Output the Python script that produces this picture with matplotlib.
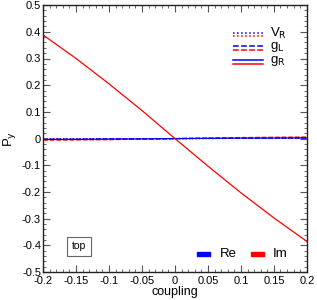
import numpy as np
import matplotlib.pyplot as plt
from matplotlib.ticker import MultipleLocator

plt.rcParams['font.family'] = ['Liberation Sans', 'DejaVu Sans']

# coupling values and polarisation curves (Re = blue, Im = red)
coupling = [-0.2, -0.15, -0.1, -0.05, 0.0, 0.05, 0.1, 0.15, 0.2]
re_vr = [-0.001, -0.001, -0.001, 0.0, 0.0, 0.0, 0.001, 0.001, 0.001]
im_vr = [-0.002, -0.002, -0.001, -0.001, 0.0, 0.001, 0.001, 0.002, 0.002]
re_gl = [-0.002, -0.002, -0.001, -0.001, 0.0, 0.001, 0.001, 0.002, 0.002]
im_gl = [-0.006, -0.005, -0.004, -0.002, 0.0, 0.002, 0.004, 0.005, 0.006]
re_gr = [-0.003, -0.003, -0.002, -0.001, 0.0, 0.001, 0.002, 0.002, 0.003]
im_gr = [0.388, 0.300, 0.205, 0.105, 0.0, -0.103, -0.203, -0.297, -0.385]

xtick_vals = [-0.2, -0.15, -0.1, -0.05, 0, 0.05, 0.1, 0.15, 0.2]
xtick_labels = ["-0.2", "-0.15", "-0.1", "-0.05", "0", "0.05", "0.1", "0.15", "0.2"]
ytick_vals = [-0.5, -0.4, -0.3, -0.2, -0.1, 0, 0.1, 0.2, 0.3, 0.4, 0.5]
ytick_labels = ["-0.5", "-0.4", "-0.3", "-0.2", "-0.1", "0", "0.1", "0.2", "0.3", "0.4", "0.5"]

legend_labels = [r"V$_\mathrm{R}$", r"g$_\mathrm{L}$", r"g$_\mathrm{R}$"]
legend_styles = [":", "--", "-"]

fig = plt.figure(figsize=(3.17, 3.0), dpi=100)
ax = fig.add_axes([0.136, 0.093, 0.832, 0.890])

blue = "#0000ff"
red = "#ff0000"
lw = 0.9

ax.plot(coupling, re_vr, color=blue, ls=":", lw=lw)
ax.plot(coupling, im_vr, color=red, ls=":", lw=lw)
ax.plot(coupling, re_gl, color=blue, ls="--", lw=lw)
ax.plot(coupling, im_gl, color=red, ls="--", lw=lw)
ax.plot(coupling, re_gr, color=blue, ls="-", lw=lw)
ax.plot(coupling, im_gr, color=red, ls="-", lw=lw)

ax.set_xlim(-0.2, 0.2)
ax.set_ylim(-0.5, 0.5)
ax.set_xticks(xtick_vals)
ax.set_xticklabels(xtick_labels)
ax.set_yticks(ytick_vals)
ax.set_yticklabels(ytick_labels)
ax.xaxis.set_minor_locator(MultipleLocator(0.01))
ax.yaxis.set_minor_locator(MultipleLocator(0.02))
ax.tick_params(which="both", direction="in", top=True, right=True,
               labelsize=8, color="#555555")
ax.tick_params(axis="x", pad=2.5)
ax.tick_params(axis="y", pad=1.5)
ax.tick_params(which="major", length=5, width=0.8)
ax.tick_params(which="minor", length=2.5, width=0.6)
for s in ax.spines.values():
    s.set_linewidth(1.0)
    s.set_color("#222222")

ax.set_xlabel("coupling", fontsize=9, labelpad=0.5)
ax.set_ylabel(r"P$_\mathrm{y}$", fontsize=9.5, labelpad=3)

# line-style legend (top right), blue over red for each entry
for i, (lab, st) in enumerate(zip(legend_labels, legend_styles)):
    yc = 0.891 - i * 0.052
    ax.plot([0.719, 0.833], [yc + 0.006, yc + 0.006], color=blue, ls=st, lw=1.1,
            transform=ax.transAxes, clip_on=False)
    ax.plot([0.719, 0.833], [yc - 0.006, yc - 0.006], color=red, ls=st, lw=1.1,
            transform=ax.transAxes, clip_on=False)
    ax.text(0.862, yc + 0.004, lab, transform=ax.transAxes, fontsize=9.5, va="center")

# colour legend (bottom right)
ax.add_patch(plt.Rectangle((0.583, 0.060), 0.048, 0.016, color=blue,
                           transform=ax.transAxes))
ax.text(0.67, 0.068, "Re", transform=ax.transAxes, fontsize=9.5, va="center")
ax.add_patch(plt.Rectangle((0.790, 0.060), 0.048, 0.016, color=red,
                           transform=ax.transAxes))
ax.text(0.87, 0.068, "Im", transform=ax.transAxes, fontsize=9.5, va="center")

ax.text(0.136, 0.096, "top", transform=ax.transAxes, fontsize=7.5, va="center", ha="center",
        bbox=dict(boxstyle="square,pad=0.45", fc="white", ec="#666666", lw=0.8))

fig.savefig("out.png", dpi=100)
